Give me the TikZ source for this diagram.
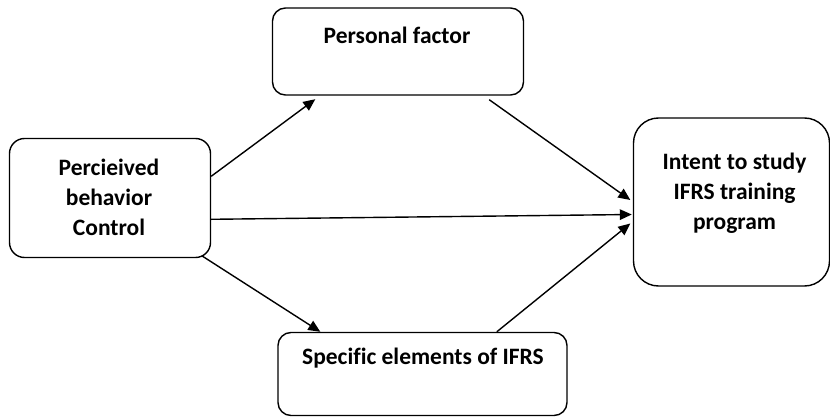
\documentclass[tikz,border=0pt]{standalone}
\usepackage{fontspec}
\setmainfont[Ligatures=NoCommon]{Carlito}
\usetikzlibrary{arrows.meta,calc}

\tikzset{
  box/.style={draw=black, line width=1.4pt, rectangle, inner sep=0pt},
  lbl/.style={font=\fontsize{23.5}{30}\selectfont\bfseries, align=center, inner sep=0pt},
  link/.style={line width=1.4pt, -{Triangle[length=12pt,width=10.5pt]}}
}

\begin{document}
\begin{tikzpicture}[x=1pt,y=-1pt]
  \useasboundingbox (0,0) rectangle (830,417);

  % boxes
  \node[box, rounded corners=15pt, minimum width=201pt, minimum height=119pt] (pbc) at (110,198) {};
  \node[box, rounded corners=13pt, minimum width=251pt, minimum height=87pt] (pf) at (398,51.5) {};
  \node[box, rounded corners=25pt, minimum width=196pt, minimum height=168pt] (its) at (731.5,202) {};
  \node[box, rounded corners=13pt, minimum width=289pt, minimum height=83pt] (sei) at (422.5,374) {};

  % labels
  \node[lbl] (pbc-t) at (109,197) {Percieived\\behavior\\Control};
  \node[lbl] (pf-t) at (397,35) {Personal factor};
  \node[lbl] (its-t) at (734.5,193.5) {Intent to study\\IFRS training\\program};
  \node[lbl] (sei-t) at (423,358) {Specific elements of IFRS};

  % connectors
  \draw[link] ($(pbc.north east)+(0,38.5)$) -- ($(pf.south west)+(43.5,3.5)$);
  \draw[link] ($(pf.south east)+(-35,4)$) -- ($(its.west)+(-2.5,-2)$);
  \draw[link] ($(pbc.north east)+(0,81.5)$) -- ($(its.west)+(-1,12.5)$);
  \draw[link] ($(pbc.south east)+(-9.5,-2.5)$) -- ($(sei.north west)+(43,0)$);
  \draw[link] ($(sei.north west)+(219.5,0)$) -- ($(its.west)+(-2.5,21.5)$);
\end{tikzpicture}
\end{document}
